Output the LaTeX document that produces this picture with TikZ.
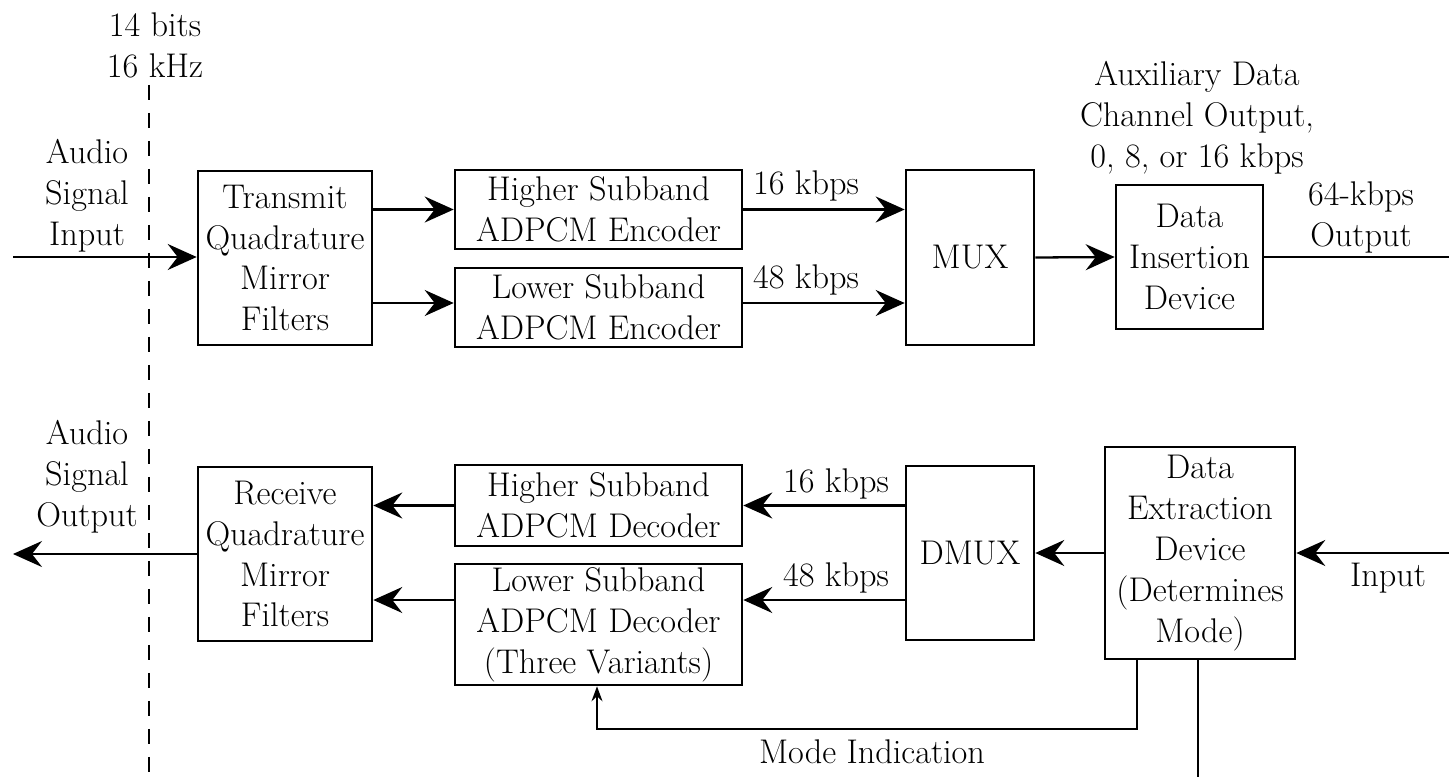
\documentclass[tikz,border=0pt]{standalone}
\usepackage{fontspec}
\usetikzlibrary{arrows.meta}
\begin{document}
\begin{tikzpicture}[x=0.02cm,y=-0.02cm,
	every node/.style={font=\fontsize{19.5pt}{23.3pt}\selectfont,align=center},
	blk/.style={draw,line width=1.5pt,inner sep=0pt},
	arr/.style={line width=1.3pt,-{Stealth[length=0.58cm,width=0.52cm,inset=0.2cm]}},
	arrs/.style={line width=1.1pt,-{Stealth[length=0.3cm,width=0.22cm,inset=0.1cm]}}]
	\useasboundingbox (0,0) rectangle (1449,777);
	\draw[line width=1pt,dash pattern=on 0.3cm off 0.26cm] (149,85) -- (149,777);
	\node (rate) at (155,45.5) {14 bits\\16 kHz};
		\node (ain) at (87,196) {Audio\\Signal\\Input};
		\node (aout) at (87,477) {Audio\\Signal\\Output};
		\node (aux) at (1197,118) {Auxiliary Data\\Channel Output,\\0, 8, or 16 kbps};
		\node (kout) at (1361,217) {64-kbps\\Output};
	\node[blk,minimum width=3.48cm,minimum height=3.48cm] (tqmf) at (285,258) {Transmit\\Quadrature\\Mirror\\Filters};
	\node[blk,minimum width=5.74cm,minimum height=1.58cm] (hse) at (598.5,209.5) {Higher Subband\\ADPCM Encoder};
	\node[blk,minimum width=5.74cm,minimum height=1.58cm] (lse) at (598.5,307.5) {Lower Subband\\ADPCM Encoder};
	\node[blk,minimum width=2.56cm,minimum height=3.5cm] (mux) at (970,257.5) {MUX};
	\node[blk,minimum width=2.94cm,minimum height=2.88cm] (did) at (1189.5,257) {Data\\Insertion\\Device};
	\node[blk,minimum width=3.48cm,minimum height=3.48cm] (rqmf) at (285,554) {Receive\\Quadrature\\Mirror\\Filters};
	\node[blk,minimum width=5.74cm,minimum height=1.62cm] (hsd) at (598.5,505.5) {Higher Subband\\ADPCM Decoder};
	\node[blk,minimum width=5.74cm,minimum height=2.42cm] (lsd) at (598.5,624.5) {Lower Subband\\ADPCM Decoder\\(Three Variants)};
	\node[blk,minimum width=2.56cm,minimum height=3.48cm] (dmux) at (970,553) {DMUX};
	\node[blk,minimum width=3.8cm,minimum height=4.24cm] (dex) at (1200,553) {Data\\Extraction\\Device\\(Determines\\Mode)};
		\node (hr1) at (806,186) {16 kbps};
		\node (lr1) at (806,280) {48 kbps};
		\node (hr2) at (836,484) {16 kbps};
		\node (lr2) at (836,578) {48 kbps};
		\node (rinl) at (1388,578) {Input};
		\node (model) at (872,752) {Mode Indication};
	\coordinate (src) at (13,257);
	\coordinate (snk) at (1449,257);
	\coordinate (rsrc) at (1449,553);
	\coordinate (rsnk) at (13,554);
	\coordinate (modept) at (597,729);
	\coordinate (bot) at (1198,777);
		\draw[arr] (src) -- (tqmf.west |- src);
		\draw[arr] (tqmf.east |- hse) -- (hse.west);
		\draw[arr] ([yshift=0.09cm]tqmf.east |- lse) -- ([yshift=0.09cm]lse.west);
		\draw[arr] (hse.east) -- (mux.west |- hse.east);
		\draw[arr] ([yshift=0.09cm]lse.east) -- ([yshift=0.09cm]mux.west |- lse.east);
		\draw[arr] (mux.east) -- (did.west);
		\draw[line width=1.2pt] (did.east) -- (snk);
		\draw[arr] (rsrc) -- (dex.east);
		\draw[arr] (dex.west) -- (dmux.east);
		\draw[arr] (dmux.west |- hsd.east) -- (hsd.east);
		\draw[arr] ([yshift=0.49cm]dmux.west |- lsd.east) -- ([yshift=0.49cm]lsd.east);
		\draw[arr] (hsd.west) -- (rqmf.east |- hsd.west);
		\draw[arr] ([yshift=0.49cm]lsd.west) -- ([yshift=0.49cm]rqmf.east |- lsd.west);
		\draw[arr] (rqmf.west) -- (rsnk);
		\draw[arrs] ([xshift=-1.26cm]dex.south) |- (modept) -- (lsd.south -| modept);
		\draw[line width=1.1pt] (dex.south -| bot) -- (bot);
\end{tikzpicture}
\end{document}
